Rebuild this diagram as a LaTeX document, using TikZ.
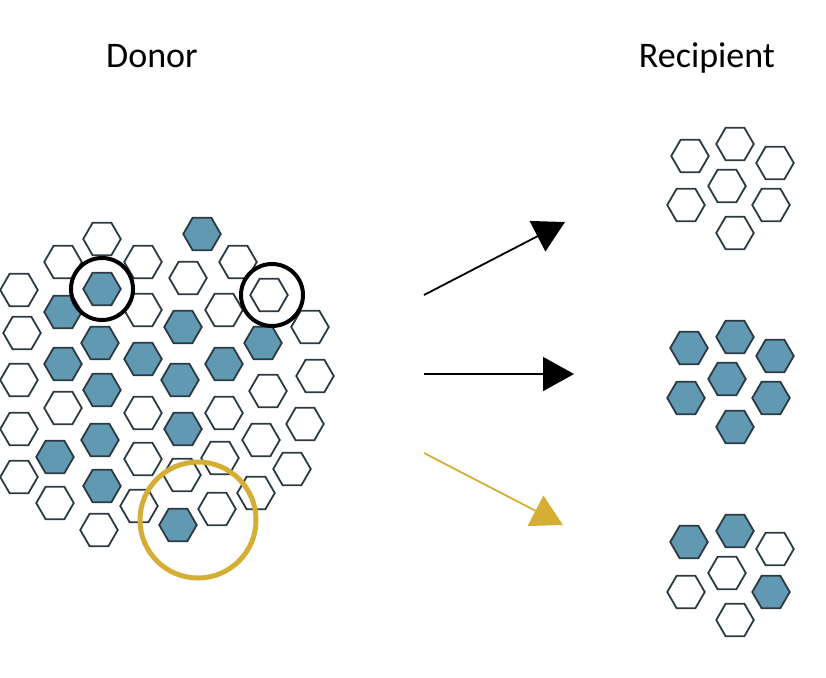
\documentclass[tikz,border=0pt]{standalone}
\usepackage{fontspec}
\setmainfont{Carlito}
\usetikzlibrary{shapes.geometric,arrows.meta}

\definecolor{cellblue}{HTML}{6199B2}
\definecolor{celledge}{HTML}{2B3A42}
\definecolor{gold}{HTML}{D5AE35}

\tikzset{
  hexw/.style={regular polygon, regular polygon sides=6, minimum size=37.5pt,
    inner sep=0pt, draw=celledge, line width=1.8pt, fill=white},
  hexb/.style={hexw, fill=cellblue},
  ring/.style={circle, draw, line width=4pt, inner sep=0pt},
  title/.style={font=\fontsize{36}{40}\selectfont, anchor=base},
}

\begin{document}
\begin{tikzpicture}[x=1pt,y=-1pt]
    \useasboundingbox (0,0) rectangle (826,677);

    % Titel
    \node[title] (donor) at (152,67) {Donor};
    \node[title] (recip) at (707,67) {Recipient};

    % Donor Zellen
    \foreach \n/\x/\y/\s in {1/102/239/hexw, 2/202/234/hexb, 3/63/262/hexw,
        4/143/262/hexw, 5/238/262/hexw, 6/188/278/hexw, 7/19/290/hexw,
        8/102/289/hexb, 9/269/295/hexw, 10/63/312/hexb, 11/143/310/hexw,
        12/224/310/hexw, 13/183/327/hexb, 14/310/327/hexw, 15/22/333/hexw,
        16/100/343/hexb, 17/263/343/hexb, 18/63/364/hexb, 19/143/359/hexb,
        20/224/364/hexb, 21/19/380/hexw, 22/180/380/hexb, 23/315/376/hexw,
        24/102/390/hexb, 25/268/391/hexw, 26/63/408/hexw, 27/143/413/hexw,
        28/224/413/hexw, 29/19/429/hexw, 30/183/429/hexb, 31/305/424/hexw,
        32/100/440/hexb, 33/261/440/hexw, 34/55/457/hexb, 35/143/459/hexw,
        36/220/458/hexw, 37/292/469/hexw, 38/182/475/hexw, 39/19/477/hexw,
        40/102/486/hexb, 41/256/493/hexw, 42/55/503/hexw, 43/139/506/hexw,
        44/217/509/hexw, 45/178/525/hexb, 46/99/530/hexw}
        \node[\s] (d\n) at (\x,\y) {};

    % Kreise um ausgewaehlte Zellen
    \node[ring, minimum size=62pt] (c1) at (d8) {};
    \node[ring, minimum size=62pt] (c2) at (272,295) {};
    \node[ring, draw=gold, line width=5pt, minimum size=116pt] (c3) at (198,520) {};

    % Empfaenger Zellen
    \foreach \n/\x/\y/\s in {1/690/156/hexw, 2/735/144/hexw, 3/775/163/hexw,
        4/727/186/hexw, 5/686/205/hexw, 6/771/205/hexw, 7/735/233/hexw}
        \node[\s] (ra\n) at (\x,\y) {};
    \foreach \n/\x/\y/\s in {1/689/348/hexb, 2/735/337/hexb, 3/775/356/hexb,
        4/727/379/hexb, 5/686/398/hexb, 6/771/398/hexb, 7/735/427/hexb}
        \node[\s] (rb\n) at (\x,\y) {};
    \foreach \n/\x/\y/\s in {1/689/542/hexb, 2/735/531/hexb, 3/775/549/hexw,
        4/727/573/hexw, 5/686/592/hexw, 6/771/592/hexb, 7/735/620/hexw}
        \node[\s] (rc\n) at (\x,\y) {};

    % Pfeile
    \coordinate (a1) at (424,295);
    \coordinate (b1) at (565,222);
    \coordinate (a2) at (424,374);
    \coordinate (b2) at (574,374);
    \coordinate (a3) at (424,453);
    \coordinate (b3) at (563,525);
    \draw[line width=1.8pt, -{Triangle[length=31pt,width=34pt]}] (a1) -- (b1);
    \draw[line width=1.8pt, -{Triangle[length=31pt,width=34pt]}] (a2) -- (b2);
    \draw[gold, line width=1.8pt, -{Triangle[length=31pt,width=34pt]}] (a3) -- (b3);
\end{tikzpicture}
\end{document}
